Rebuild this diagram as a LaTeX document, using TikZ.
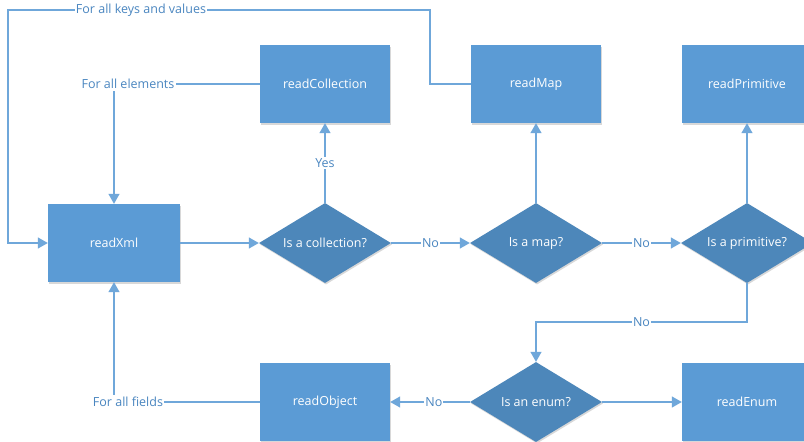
\documentclass[tikz,border=0pt]{standalone}
\usepackage{fontspec}
\setmainfont{Open Sans}
\usetikzlibrary{shapes.geometric,arrows.meta,shadows}
\definecolor{boxblue}{HTML}{5B9BD5}
\definecolor{diablue}{HTML}{4D87BA}
\definecolor{lineblue}{HTML}{6FA7DA}
\definecolor{txtblue}{HTML}{4A86C0}
\newcommand{\zw}[1]{\makebox[0pt]{#1}}
\begin{document}
\begin{tikzpicture}[x=1pt,y=-1pt,
  font=\fontsize{12.5}{14}\selectfont,
  procbox/.style={rectangle,fill=boxblue,text=white,minimum width=130pt,minimum height=78pt,inner sep=0pt,
    drop shadow={shadow xshift=1pt,shadow yshift=-1.5pt,opacity=0.25,fill=black!60}},
  decision/.style={diamond,fill=diablue,text=white,minimum width=132pt,minimum height=80pt,inner sep=0pt,
    drop shadow={shadow xshift=1pt,shadow yshift=-1.5pt,opacity=0.25,fill=black!60}},
  conn/.style={draw=lineblue,line width=1.3pt},
  arr/.style={conn,-{Triangle[length=10pt,width=11pt]}},
  lbl/.style={fill=white,text=txtblue,inner sep=1pt}]
\useasboundingbox (0,0) rectangle (804,442);
\clip (0,0) rectangle (804,442);
\fill[white] (0,0) rectangle (804,442);
% nodes
\node[procbox] (coll) at (325,84) {readCollection};
\node[procbox] (map) at (536,84) {readMap};
\node[procbox] (prim) at (747,84) {readPrimitive};
\node[procbox,minimum width=132pt] (xml) at (114,243) {readXml};
\node[decision] (isColl) at (325,243) {\zw{Is a collection?}};
\node[decision] (isMap) at (536,243) {\zw{Is a map?}};
\node[decision] (isPrim) at (747,243) {\zw{Is a primitive?}};
\node[decision] (isEnum) at (536,402) {\zw{Is an enum?}};
\node[procbox] (obj) at (325,402) {readObject};
\node[procbox] (enum) at (747,402) {readEnum};
% labels
\node[lbl] (lElem) at (128,84) {For all elements};
\node[lbl] (lKeys) at (141,10) {For all keys and values};
\node[lbl] (lFields) at (128,402) {For all fields};
\coordinate (kTL) at (8,10);
\coordinate (kTR) at (430,10);
\coordinate (kMR) at (430,84);
\coordinate (kBL) at (8,243);
\coordinate (pDown) at (747,322);
\coordinate (eUp) at (536,322);
% connectors
\draw[conn] (coll.west) -- (lElem.east);
\draw[arr] (lElem.south -| xml.north) ++(0,1) -- (xml.north);
\draw[conn] (map.west) -- (kMR) -- (kTR) -- (lKeys.east);
\draw[arr] (lKeys.west) -- (kTL) -- (kBL) -- (xml.west);
\draw[arr] (xml.east) -- (isColl.west);
\draw[arr] (isColl.north) -- node[lbl]{Yes} (coll.south);
\draw[arr] (isColl.east) -- node[lbl,pos=0.5]{No} (isMap.west);
\draw[arr] (isMap.north) -- (map.south);
\draw[arr] (isMap.east) -- node[lbl]{No} (isPrim.west);
\draw[arr] (isPrim.north) -- (prim.south);
\draw[arr] (isPrim.south) -- (pDown) -- node[lbl,pos=0.5]{No} (eUp) -- (isEnum.north);
\draw[arr] (isEnum.west) -- node[lbl,pos=0.45]{No} (obj.east);
\draw[arr] (isEnum.east) -- (enum.west);
\draw[conn] (obj.west) -- (lFields.east);
\draw[arr] (lFields.north -| xml.south) ++(0,-1) -- (xml.south);
\end{tikzpicture}
\end{document}
